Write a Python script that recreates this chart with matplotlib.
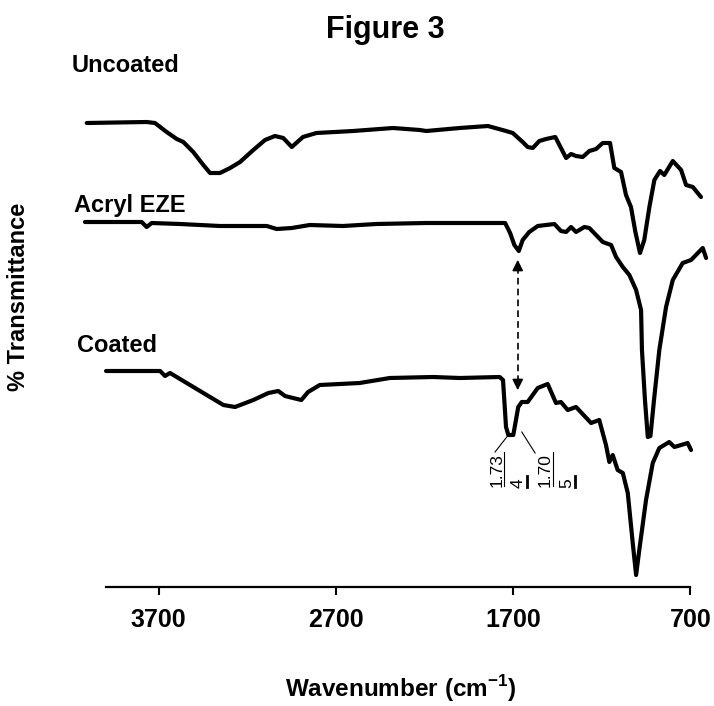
"""
FTIR spectra: uncoated, Acryl EZE and coated tablets (Figure 3).
"""

import matplotlib
matplotlib.use("Agg")
import matplotlib.pyplot as plt


# ==================== Data ====================
# wavenumber (cm-1) and offset transmittance (arbitrary units)

UNCOATED_WN = [4106, 3768, 3721, 3655, 3598, 3561, 3505, 3448, 3410, 3354,
               3297, 3241, 3166, 3100, 3044, 2997, 2949, 2886, 2810, 2603,
               2378, 2227, 2190, 2001, 1842, 1740, 1702, 1646, 1618, 1589,
               1552, 1514, 1462, 1430, 1401, 1373, 1345, 1307, 1270, 1232,
               1194, 1153, 1129, 1091, 1063, 1035, 1010, 984, 960, 931,
               903, 871, 847, 799, 752, 724, 686, 640]
UNCOATED_T = [464, 465, 464, 455, 448, 445, 435, 422, 414, 414,
              419, 425, 437, 447, 451, 449, 440, 450, 454, 456,
              459, 457, 456, 459, 461, 456, 454, 445, 440, 439,
              446, 448, 450, 439, 429, 433, 431, 430, 436, 438,
              444, 444, 419, 415, 392, 380, 355, 334, 347, 380,
              407, 416, 412, 426, 417, 402, 400, 390]

ACRYL_WN = [4116, 3796, 3768, 3739, 3580, 3354, 3090, 3034, 2949, 2848,
            2660, 2472, 2190, 1908, 1745, 1717, 1693, 1668, 1646, 1609,
            1561, 1467, 1430, 1401, 1373, 1345, 1298, 1270, 1194, 1147,
            1119, 1081, 1044, 1006, 978, 973, 956, 940, 925, 905,
            875, 837, 799, 743, 696, 630, 611]
ACRYL_T = [365, 365, 360, 364, 363, 361, 361, 358, 359, 362,
           361, 363, 364, 364, 364, 354, 342, 336, 347, 355,
           361, 363, 356, 355, 360, 355, 360, 359, 345, 342,
           330, 320, 312, 297, 277, 237, 187, 150, 151, 187,
           237, 280, 307, 324, 327, 339, 329]

COATED_WN = [3997, 3692, 3664, 3636, 3542, 3429, 3335, 3269, 3166, 3081,
             3025, 2987, 2942, 2895, 2857, 2791, 2566, 2396, 2152, 2001,
             1776, 1757, 1740, 1727, 1699, 1671, 1651, 1618, 1561, 1505,
             1458, 1430, 1392, 1345, 1260, 1214, 1176, 1157, 1138, 1110,
             1081, 1053, 1025, 1006, 988, 950, 912, 875, 847, 819,
             790, 752, 715, 696]
COATED_T = [216, 216, 211, 214, 204, 192, 182, 180, 187, 194,
            196, 191, 189, 187, 195, 202, 204, 209, 210, 209,
            210, 207, 160, 152, 152, 180, 185, 185, 199, 203,
            184, 185, 177, 180, 164, 167, 142, 125, 132, 117,
            114, 94, 44, 12, 37, 87, 124, 139, 142, 145,
            140, 142, 144, 137]

SERIES_LABELS = ["Uncoated", "Acryl EZE", "Coated"]
TICK_WN = [3700, 2700, 1700, 700]

# peak labels near the carbonyl band of the coated tablet
PEAK_TOP = ["1.73", "1.70"]
PEAK_BOTTOM = ["4", "5"]
PEAK_START = [(1727, 152), (1651, 155)]     # leader line start (on the curve)
PEAK_END = [(1802, 135), (1576, 134)]       # leader line end (at the label)
PEAK_LABEL_WN = [1793, 1517]
PEAK_DIGIT_WN = [1672, 1399]
ARROW_WN = 1674


# ==================== Plot ====================

W, H = 714, 706
plt.rcParams["font.family"] = ["Liberation Sans", "DejaVu Sans"]
plt.rcParams["mathtext.fontset"] = "custom"
plt.rcParams["mathtext.rm"] = "Liberation Sans:bold"

fig = plt.figure(figsize=(W / 100, H / 100), dpi=100)
ax = fig.add_axes([80 / W, 119 / H, 630 / W, 487 / H])

lw = 3.0
for wn, t in [(UNCOATED_WN, UNCOATED_T), (ACRYL_WN, ACRYL_T), (COATED_WN, COATED_T)]:
    ax.plot(wn, t, color="black", lw=lw, solid_joinstyle="round",
            solid_capstyle="round")

ax.set_xlim(4144, 589)
ax.set_ylim(0, 487)

for side in ["top", "right", "left"]:
    ax.spines[side].set_visible(False)
ax.spines["bottom"].set_bounds(4000, 700)
ax.spines["bottom"].set_linewidth(1.6)
ax.set_yticks([])
ax.set_xticks(TICK_WN)
ax.set_xticklabels([str(t) for t in TICK_WN], fontsize=18, fontweight="bold")
ax.tick_params(axis="x", direction="out", length=6, width=1.5, pad=9)

# series names
name_pos = [(72, 65), (74, 205), (77, 345)]
for name, (px, py) in zip(SERIES_LABELS, name_pos):
    fig.text(px / W, 1 - py / H, name, fontsize=17, fontweight="bold",
             ha="left", va="center")

# peak annotations (rotated stacked labels)
for top, bottom, p0, p1, wn_lab, wn_dig in zip(PEAK_TOP, PEAK_BOTTOM, PEAK_START,
                                               PEAK_END, PEAK_LABEL_WN, PEAK_DIGIT_WN):
    ax.plot([p0[0], p1[0]], [p0[1], p1[1]], color="black", lw=0.8)
    ax.text(wn_lab, 134, top, rotation=90, fontsize=12.5, ha="center", va="top")
    ax.plot([wn_lab - 40, wn_lab - 40], [101, 135], color="black", lw=0.8)
    ax.text(wn_dig, 99, bottom, rotation=90, fontsize=12.5, ha="center", va="bottom")
    ax.plot([wn_dig - 50, wn_dig - 50], [100, 111], color="black", lw=2)

# dashed double arrow between Acryl EZE and coated carbonyl bands
ax.plot([ARROW_WN, ARROW_WN], [205, 319], color="black", lw=1.2,
        linestyle=(0, (4, 2.5)))
ax.annotate("", xy=(ARROW_WN, 330), xytext=(ARROW_WN, 316),
            arrowprops=dict(arrowstyle="-|>", color="black", lw=1.2,
                            mutation_scale=16))
ax.annotate("", xy=(ARROW_WN, 194), xytext=(ARROW_WN, 208),
            arrowprops=dict(arrowstyle="-|>", color="black", lw=1.2,
                            mutation_scale=16))

# titles
fig.text(385 / W, 1 - 30 / H, "Figure 3", fontsize=22, fontweight="bold",
         ha="center", va="center")
fig.text(19 / W, 1 - 297 / H, "% Transmittance", fontsize=17,
         fontweight="bold", rotation=90, ha="center", va="center")
fig.text(401 / W, 1 - 689 / H, r"Wavenumber (cm$^{-1}$)", fontsize=17.5,
         fontweight="bold", ha="center", va="center")

fig.savefig("out.png", dpi=100)
